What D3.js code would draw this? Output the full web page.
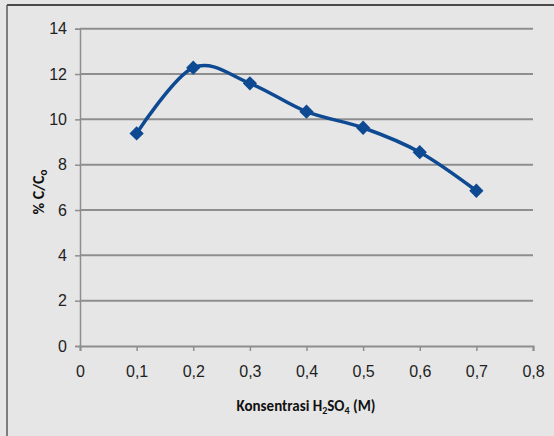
<!DOCTYPE html>
<html>
<head>
<meta charset="utf-8">
<script src="https://cdn.jsdelivr.net/npm/d3@7"></script>
<style>
  html, body { margin: 0; padding: 0; background: #e6e6e6; }
  svg { display: block; font-family: Carlito, Calibri, Lato, "Open Sans", sans-serif; }
</style>
</head>
<body>
<svg id="chart" width="554" height="436"></svg>
<script>
// Concentration of H2SO4 (M) and the resulting % C/C0
const concentrations = [0.1, 0.2, 0.3, 0.4, 0.5, 0.6, 0.7];
const ratios = [9.38, 12.28, 11.59, 10.34, 9.63, 8.55, 6.85];
const xTicks = [0, 0.1, 0.2, 0.3, 0.4, 0.5, 0.6, 0.7, 0.8];
const yTicks = [0, 2, 4, 6, 8, 10, 12, 14];

const svg = d3.select("#chart");
const W = 554, H = 436;

// panel background and frame
svg.append("rect").attr("x", 0).attr("y", 0).attr("width", W).attr("height", H).attr("fill", "#e6e6e6");
svg.append("line").attr("x1", 7).attr("x2", W).attr("y1", 5).attr("y2", 5)
  .attr("stroke", "#4a4a4a").attr("stroke-width", 2);
svg.append("line").attr("x1", 7).attr("x2", 7).attr("y1", 5).attr("y2", H)
  .attr("stroke", "#5a5a5a").attr("stroke-width", 1.5);

const plot = { left: 80, right: 533, top: 28.7, bottom: 346 };
const x = d3.scaleLinear().domain([0, 0.8]).range([plot.left, plot.right]);
const y = d3.scaleLinear().domain([0, 14]).range([plot.bottom, plot.top]);

const fmt = d => d === 0 ? "0" : d3.format(".1f")(d).replace(".", ",");

// horizontal gridlines
svg.append("g").selectAll("line").data(yTicks.filter(d => d > 0)).join("line")
  .attr("x1", plot.left).attr("x2", plot.right)
  .attr("y1", d => y(d)).attr("y2", d => y(d))
  .attr("stroke", "#8e8e8e").attr("stroke-width", 2);

// y axis
const yAxis = svg.append("g").attr("transform", `translate(${plot.left},0)`)
  .call(d3.axisLeft(y).tickValues(yTicks).tickSize(5).tickPadding(8).tickFormat(d3.format("d")));
yAxis.select(".domain").attr("stroke", "#8e8e8e").attr("stroke-width", 1.5);
yAxis.selectAll(".tick line").attr("stroke", "#8e8e8e").attr("stroke-width", 1.5);
yAxis.selectAll(".tick text").attr("font-size", 16).attr("fill", "#222").attr("font-family", null);

// x axis
const xAxis = svg.append("g").attr("transform", `translate(0,${plot.bottom})`)
  .call(d3.axisBottom(x).tickValues(xTicks).tickSize(5).tickPadding(15).tickFormat(fmt));
xAxis.select(".domain").attr("stroke", "#8e8e8e").attr("stroke-width", 2);
xAxis.selectAll(".tick line").attr("stroke", "#8e8e8e").attr("stroke-width", 1.5);
xAxis.selectAll(".tick text").attr("font-size", 16).attr("fill", "#222").attr("font-family", null);

// smoothed series line
const pts = concentrations.map((c, i) => [c, ratios[i]]);
const line = d3.line().x(d => x(d[0])).y(d => y(d[1])).curve(d3.curveCatmullRom.alpha(0));
svg.append("path").datum(pts).attr("d", line)
  .attr("fill", "none").attr("stroke", "#0e4a92").attr("stroke-width", 3.5);

// diamond markers
const diamond = d3.symbol().type(d3.symbolDiamond2).size(130);
svg.append("g").selectAll("path").data(pts).join("path")
  .attr("d", diamond)
  .attr("transform", d => `translate(${x(d[0])},${y(d[1])})`)
  .attr("fill", "#0e4a92");

// axis titles
const xt = svg.append("text").attr("x", 306).attr("y", 411).attr("text-anchor", "middle")
  .attr("font-size", 15).attr("font-weight", "bold").attr("fill", "#111");
xt.append("tspan").text("Konsentrasi H");
xt.append("tspan").text("2").attr("font-size", 10).attr("dy", 3);
xt.append("tspan").text("SO").attr("dy", -3);
xt.append("tspan").text("4").attr("font-size", 10).attr("dy", 3);
xt.append("tspan").text(" (M)").attr("dy", -3);

const yt = svg.append("text").attr("transform", "translate(44,192) rotate(-90)")
  .attr("text-anchor", "middle").attr("font-size", 16).attr("font-weight", "bold").attr("fill", "#111");
yt.append("tspan").text("% C/C");
yt.append("tspan").text("o").attr("font-size", 11).attr("dy", 3);
</script>
</body>
</html>
